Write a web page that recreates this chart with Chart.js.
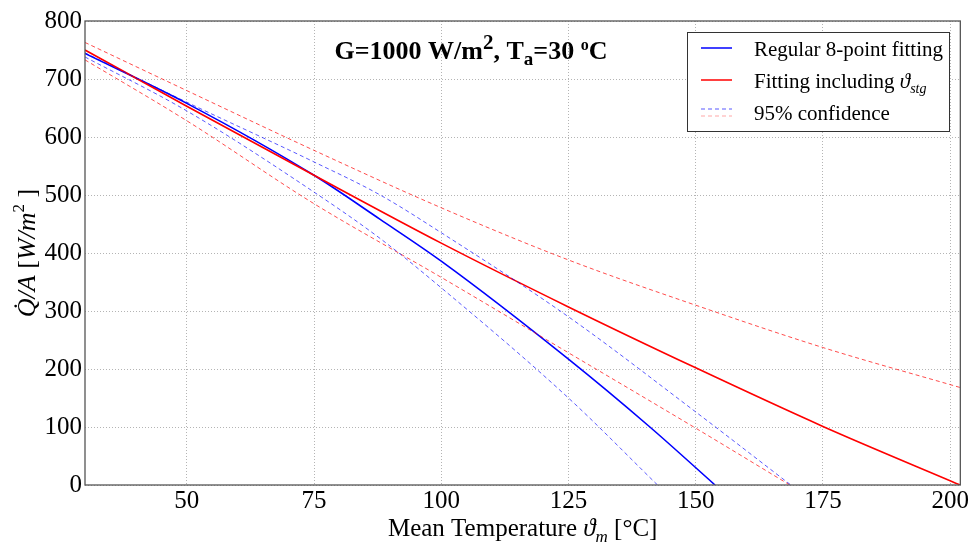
<!DOCTYPE html>
<html>
<head>
<meta charset="utf-8">
<script src="https://cdn.jsdelivr.net/npm/chart.js@4.4.1/dist/chart.umd.min.js"></script>
<style>
  html, body { margin: 0; padding: 0; background: #fff; }
  #wrap { width: 970px; height: 544px; position: relative; }
</style>
</head>
<body>
<div id="wrap"><canvas id="qChart"></canvas></div>
<script>
// mean temperature [°C] / heat output [W/m2]
const regT = [30, 50, 75, 88, 100, 125, 141, 153.8];
const regQ = [744, 658, 534, 458, 386, 217, 100, 0];

const stgT = [30, 50, 75, 100, 125, 150, 175, 202];
const stgQ = [750, 653, 534, 417, 307, 202, 101, 0];

const regUpT = [30, 50, 75, 88, 100, 125, 150, 168.7];
const regUpQ = [745, 660, 557, 500, 435, 290, 126, 0];
const regLoT = [30, 50, 75, 88, 100, 125, 142.5];
const regLoQ = [738, 645, 505, 425, 340, 150, 0];

const stgUpT = [30, 50, 75, 100, 125, 150, 175, 202];
const stgUpQ = [763, 680, 577, 478, 388, 310, 237, 168];
const stgLoT = [30, 50, 75, 100, 125, 150, 168.5];
const stgLoQ = [733, 628, 485, 358, 228, 98, 0];

const xTicks = [50, 75, 100, 125, 150, 175, 200];
const yTicks = [0, 100, 200, 300, 400, 500, 600, 700, 800];

const SERIF = "'Liberation Serif', 'Times New Roman', serif";

function pts(ts, qs) {
  return ts.map((t, i) => ({ x: t, y: qs[i] }));
}

// draws a row of text pieces (sub/superscripts) starting at x
function richText(ctx, parts, x, y, align) {
  let w = 0;
  parts.forEach(p => { ctx.font = p.font; w += ctx.measureText(p.t).width; });
  let cx = align === 'center' ? x - w / 2 : x;
  ctx.textBaseline = 'alphabetic';
  ctx.textAlign = 'left';
  parts.forEach(p => {
    ctx.font = p.font;
    ctx.fillText(p.t, cx, y + (p.dy || 0));
    cx += ctx.measureText(p.t).width;
  });
}

const BLUE = '#0000ff';
const RED = '#ff0000';
const BLUE_D = 'rgba(0,0,255,0.65)';
const RED_D = 'rgba(255,0,0,0.7)';

const decor = {
  id: 'decor',
  afterDatasetsDraw(chart) {
    const ctx = chart.ctx;
    const a = chart.chartArea;
    ctx.save();
    // frame
    ctx.strokeStyle = '#555';
    ctx.lineWidth = 1.3;
    ctx.strokeRect(a.left, a.top, a.right - a.left, a.bottom - a.top);

    ctx.fillStyle = '#000';
    // title inside plot
    const b = 'bold 26px ' + SERIF;
    richText(ctx, [
      { t: 'G=1000 W/m', font: b },
      { t: '2', font: 'bold 21px ' + SERIF, dy: -10 },
      { t: ', T', font: b },
      { t: 'a', font: 'bold 19px ' + SERIF, dy: 6 },
      { t: '=30 ', font: b },
      { t: 'o', font: 'bold 16px ' + SERIF, dy: -9 },
      { t: 'C', font: b }
    ], 471, 59, 'center');

    // x title
    const r = '25px ' + SERIF, it = 'italic 25px ' + SERIF;
    richText(ctx, [
      { t: 'Mean Temperature ', font: r },
      { t: 'ϑ', font: it },
      { t: 'm', font: 'italic 17px ' + SERIF, dy: 6 },
      { t: ' [°C]', font: r }
    ], (a.left + a.right) / 2, 536, 'center');

    // y title
    ctx.save();
    ctx.translate(35, (a.top + a.bottom) / 2);
    ctx.rotate(-Math.PI / 2);
    const yr = '26px ' + SERIF, yi = 'italic 26px ' + SERIF;
    richText(ctx, [
      { t: 'Q̇/A', font: yi },
      { t: ' [', font: yr },
      { t: 'W/m', font: yi },
      { t: '2', font: '17px ' + SERIF, dy: -11 },
      { t: ' ]', font: yr }
    ], 0, 0, 'center');
    ctx.restore();

    // legend
    const lx = 687.5, ly = 32.5, lw = 262, lh = 99;
    ctx.fillStyle = '#fff';
    ctx.fillRect(lx, ly, lw, lh);
    ctx.strokeStyle = '#333';
    ctx.lineWidth = 1;
    ctx.strokeRect(lx, ly, lw, lh);

    const seg = (y, color, width, dash) => {
      ctx.beginPath();
      ctx.setLineDash(dash);
      ctx.strokeStyle = color;
      ctx.lineWidth = width;
      ctx.moveTo(701, y);
      ctx.lineTo(732, y);
      ctx.stroke();
      ctx.setLineDash([]);
    };
    seg(48, BLUE, 1.5, []);
    seg(80, RED, 1.5, []);
    seg(109, BLUE_D, 1, [4, 3]);
    seg(116, 'rgba(255,0,0,0.35)', 1, [4, 3]);

    ctx.fillStyle = '#000';
    const lf = '21px ' + SERIF;
    const ds = chart.data.datasets;
    richText(ctx, [{ t: ds[5].label, font: lf }], 754, 56, 'left');
    richText(ctx, [
      { t: 'Fitting including ', font: lf },
      { t: 'ϑ', font: 'italic 21px ' + SERIF },
      { t: 'stg', font: 'italic 14px ' + SERIF, dy: 5 }
    ], 754, 88, 'left');
    richText(ctx, [{ t: ds[0].label, font: lf }], 754, 120, 'left');
    ctx.restore();
  }
};

const dashed = (label, data, color) => ({
  label, data, borderColor: color, borderWidth: 1, borderDash: [4, 3],
  pointRadius: 0, fill: false, cubicInterpolationMode: 'monotone'
});
const solid = (label, data, color) => ({
  label, data, borderColor: color, borderWidth: 1.6,
  pointRadius: 0, fill: false, cubicInterpolationMode: 'monotone'
});

const gridStyle = { color: '#b4b4b4', drawTicks: false, lineWidth: 1 };
const borderStyle = { display: false, dash: [1, 2] };

new Chart(document.getElementById('qChart'), {
  type: 'line',
  data: {
    datasets: [
      dashed('95% confidence', pts(regUpT, regUpQ), BLUE_D),
      dashed('95% confidence', pts(regLoT, regLoQ), BLUE_D),
      dashed('95% confidence', pts(stgUpT, stgUpQ), RED_D),
      dashed('95% confidence', pts(stgLoT, stgLoQ), RED_D),
      solid('Fitting including ϑstg', pts(stgT, stgQ), RED),
      solid('Regular 8-point fitting', pts(regT, regQ), BLUE)
    ]
  },
  options: {
    responsive: true,
    maintainAspectRatio: false,
    animation: false,
    layout: { padding: { top: 21, right: 9, left: 0, bottom: 0 } },
    plugins: { legend: { display: false }, tooltip: { enabled: false } },
    scales: {
      x: {
        type: 'linear', min: 30, max: 202,
        afterBuildTicks: s => { s.ticks = xTicks.map(v => ({ value: v })); },
        afterFit: s => { s.height = 59; },
        border: borderStyle,
        grid: gridStyle,
        ticks: { color: '#000', font: { family: SERIF, size: 25 }, padding: 1, maxRotation: 0 }
      },
      y: {
        type: 'linear', min: 0, max: 800,
        afterBuildTicks: s => { s.ticks = yTicks.map(v => ({ value: v })); },
        afterFit: s => { s.width = 85; },
        border: borderStyle,
        grid: gridStyle,
        ticks: { color: '#000', font: { family: SERIF, size: 25 }, padding: 3 }
      }
    }
  },
  plugins: [decor]
});
</script>
</body>
</html>
